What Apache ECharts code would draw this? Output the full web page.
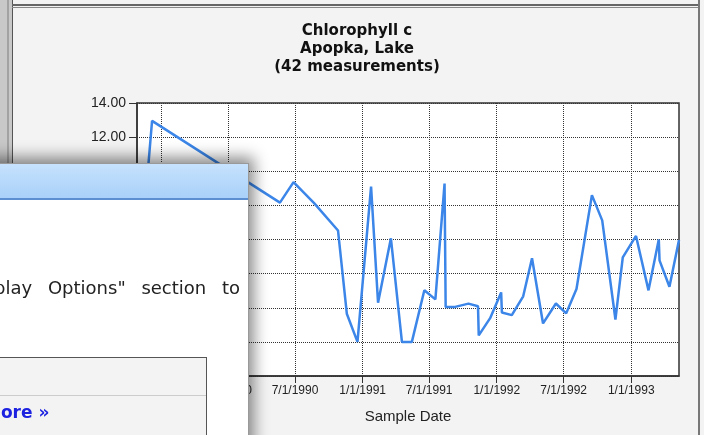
<!DOCTYPE html>
<html><head><meta charset="utf-8">
<script src="https://cdn.jsdelivr.net/npm/echarts@6/dist/echarts.min.js"></script>
<style>
html,body{margin:0;padding:0;width:704px;height:435px;overflow:hidden;background:#f3f3f3;}
#chart{position:absolute;left:0;top:0;width:704px;height:435px;}
.abs{position:absolute;}
</style></head><body>
<div id="chart"></div>
<!-- page frame -->
<div class="abs" style="left:0;top:0;width:12px;height:435px;background:#c8c8c8;"></div>
<div class="abs" style="left:7px;top:0;width:2px;height:435px;background:#a2a2a2;"></div>
<div class="abs" style="left:12px;top:0;width:1px;height:435px;background:#555;"></div>
<div class="abs" style="left:12px;top:4px;width:688px;height:2px;background:#666;"></div>
<div class="abs" style="left:12px;top:7px;width:688px;height:1px;background:#888;"></div>
<div class="abs" style="left:698px;top:0;width:2px;height:435px;background:#777;"></div>
<!-- popup overlay -->
<div class="abs" style="left:-20px;top:163px;width:268px;height:300px;background:#fff;box-shadow:1px -2px 14px 4px rgba(0,0,0,0.45);border-right:1px solid #999;">
  <div class="abs" style="left:0;top:0;width:268px;height:34px;border-top:1px solid #999;border-bottom:2px solid #5b8fd2;background:linear-gradient(#c6e2fd,#a9d1f9);"></div>
  <div class="abs" style="right:8px;top:114px;white-space:nowrap;font-family:'DejaVu Sans';font-size:18px;line-height:22px;color:#222;word-spacing:10px;">the "Display Options" section to</div>
  <div class="abs" style="left:0;top:194px;width:225px;height:120px;border:1px solid #555;background:#f3f3f3;">
    <div class="abs" style="left:0;top:37px;width:225px;height:1px;background:#ccc;"></div>
    <div class="abs" style="left:3px;top:44px;white-space:nowrap;font-family:'DejaVu Sans';font-weight:bold;font-size:17px;line-height:20px;color:#1c22e0;">More »</div>
  </div>
</div>
<script>
const titleLines = ['Chlorophyll c', 'Apopka, Lake', '(42 measurements)'];
const sampleDates = ['1989-04-27','1989-05-14','1989-06-07','1990-05-21','1990-06-27','1990-08-22','1990-10-26','1990-11-19','1990-12-18',
  '1991-01-24','1991-02-12','1991-03-19','1991-04-18','1991-05-15','1991-06-18','1991-07-18','1991-08-12','1991-08-15','1991-09-10',
  '1991-10-16','1991-11-11','1991-11-13','1991-12-14','1992-01-13','1992-01-15','1992-02-11','1992-03-13','1992-04-06','1992-05-06',
  '1992-06-10','1992-07-08','1992-08-05','1992-09-16','1992-10-14','1992-11-19','1992-12-09','1993-01-14','1993-02-17','1993-03-17',
  '1993-03-19','1993-04-15','1993-05-11'];
const chlorophyllC = [4.5, 6.8, 12.95, 8.16, 9.36, 8.13, 6.53, 1.65, 0.0, 9.1,
  2.3, 6.07, 0.0, 0.0, 3.03, 2.49, 9.28, 2.05, 2.05, 2.24,
  2.09, 0.38, 1.39, 2.9, 1.72, 1.57, 2.67, 4.9, 1.08, 2.25,
  1.67, 3.1, 8.6, 7.12, 1.31, 4.95, 6.21, 3.02, 6.0, 4.78,
  3.23, 5.97];
const xTickLabels = ['7/1/1989','1/1/1990','7/1/1990','1/1/1991','7/1/1991','1/1/1992','7/1/1992','1/1/1993'];
const yMin = -2, yMax = 14, yStep = 2;
const xAxisName = 'Sample Date';

function isoToUTC(s){ const p = s.split('-').map(Number); return Date.UTC(p[0], p[1]-1, p[2]); }
function mdyToUTC(s){ const p = s.split('/').map(Number); return Date.UTC(p[2], p[0]-1, p[1]); }
function fmtMDY(v){ const d = new Date(v); return (d.getUTCMonth()+1) + '/' + d.getUTCDate() + '/' + d.getUTCFullYear(); }

const xTickValues = xTickLabels.map(mdyToUTC);
const seriesData = sampleDates.map((d, i) => [isoToUTC(d), chlorophyllC[i]]);

const chart = echarts.init(document.getElementById('chart'), null, {renderer: 'canvas'});
chart.setOption({
  animation: false,
  title: {
    text: titleLines.join('\n'), left: 357, top: 22, textAlign: 'center', padding: 0,
    textStyle: {fontFamily: 'DejaVu Sans', fontWeight: 'bold', fontSize: 15, lineHeight: 18, color: '#111'}
  },
  grid: {left: 137, right: 25, top: 103, bottom: 59, show: true, backgroundColor: '#fff',
    borderColor: '#333', borderWidth: 1.5, outerBoundsMode: 'none', containLabel: false},
  xAxis: {
    type: 'value', min: 'dataMin', max: 'dataMax', scale: true,
    name: xAxisName, nameLocation: 'middle', nameGap: 33,
    nameTextStyle: {fontFamily: 'Liberation Sans', fontSize: 15, color: '#222'},
    axisLine: {show: true, onZero: false, lineStyle: {color: '#333', width: 1.5}},
    axisTick: {show: true, inside: false, length: 7, customValues: xTickValues, lineStyle: {color: '#333'}},
    axisLabel: {customValues: xTickValues, formatter: v => fmtMDY(v), margin: 9, hideOverlap: false,
      fontFamily: 'Liberation Sans', fontSize: 12, color: '#222'},
    splitLine: {show: true, lineStyle: {color: '#333', type: [1, 1], width: 1}}
  },
  yAxis: {
    type: 'value', min: yMin, max: yMax, interval: yStep,
    axisLine: {show: true, onZero: false, lineStyle: {color: '#333', width: 1.5}},
    axisTick: {show: true, inside: false, length: 8, lineStyle: {color: '#333'}},
    axisLabel: {formatter: v => v.toFixed(2), margin: 11, fontFamily: 'Liberation Sans', fontSize: 14, color: '#222'},
    splitLine: {show: true, lineStyle: {color: '#333', type: [1, 1], width: 1}}
  },
  series: [{
    type: 'line', data: seriesData, symbol: 'none', smooth: false,
    lineStyle: {color: '#3b86e8', width: 2.5}, itemStyle: {color: '#3b86e8'}
  }]
});
</script>
</body></html>
